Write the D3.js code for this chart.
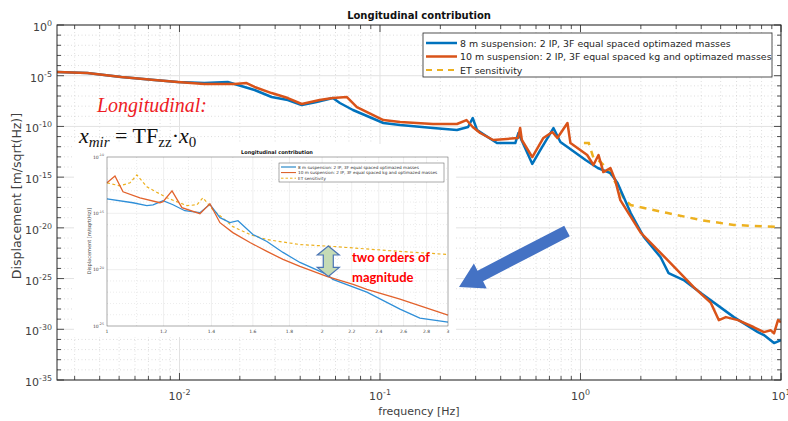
<!DOCTYPE html>
<html>
<head>
<meta charset="utf-8">
<script src="https://cdn.jsdelivr.net/npm/d3@7"></script>
<style>
  body { margin: 0; background: #fff; }
  svg { display: block; font-family: "DejaVu Sans", sans-serif; }
</style>
</head>
<body>
<svg id="chart" width="788" height="421"></svg>
<script>
// ---- data (frequency in Hz, displacement as log10 exponent) ----
const freq8 = [0.00237, 0.00347, 0.00513, 0.0075, 0.0098, 0.0133, 0.0174, 0.0188, 0.0237, 0.0288, 0.0347, 0.0407, 0.0483, 0.0582, 0.0631, 0.0733, 0.104, 0.126, 0.184, 0.242, 0.275, 0.29, 0.305, 0.383, 0.473, 0.49, 0.575, 0.63, 0.733, 0.794, 0.861, 1.06, 1.22, 1.41, 1.53, 1.78, 2.07, 2.51, 2.75, 3.27, 3.98, 5.82, 7.67, 8.22, 9.23, 10];
const exp8 = [-4.63, -4.73, -5.13, -5.42, -5.62, -5.72, -5.62, -5.82, -6.41, -7.1, -7.4, -7.89, -7.59, -7.2, -7.69, -8.38, -9.66, -9.86, -10.16, -10.36, -10.06, -9.17, -10.36, -11.64, -11.64, -10.65, -13.7, -12.33, -10.16, -11.54, -12.03, -13.31, -14.1, -14.6, -15.58, -18.54, -20.9, -22.9, -24.46, -25.15, -26.43, -28.8, -30.28, -30.57, -31.36, -31.07];

const freq10 = [0.00237, 0.00347, 0.00513, 0.0075, 0.0098, 0.0133, 0.0188, 0.0216, 0.0237, 0.0288, 0.0347, 0.0407, 0.05, 0.0582, 0.0684, 0.0767, 0.104, 0.126, 0.184, 0.242, 0.27, 0.29, 0.316, 0.367, 0.488, 0.5, 0.51, 0.575, 0.653, 0.724, 0.767, 0.861, 0.891, 1.08, 1.16, 1.23, 1.3, 1.41, 1.49, 1.58, 2.0, 2.72, 3.67, 4.47, 4.9, 5.31, 6.1, 7.33, 8.22, 8.9, 9.23, 9.66, 10];
const exp10 = [-4.63, -4.73, -5.13, -5.42, -5.62, -5.82, -5.82, -5.72, -6.11, -6.71, -7.2, -7.79, -7.4, -7.2, -7.1, -8.09, -9.37, -9.57, -9.76, -9.76, -9.37, -10.06, -10.65, -11.34, -11.14, -10.16, -11.34, -13.02, -11.14, -10.55, -11.14, -9.66, -11.64, -12.82, -13.8, -12.82, -14.5, -14.1, -15.3, -17.26, -20.5, -23.18, -25.84, -27.4, -29.1, -28.8, -29.1, -29.8, -30.28, -30.1, -30.4, -29.1, -29.3];

const freqET = [1.04, 1.1, 1.16, 1.26, 1.38, 1.5, 1.66, 1.78, 2.72, 3.98, 5.82, 10];
const expET = [-11.64, -11.64, -13.1, -13.5, -14.3, -15.6, -17.26, -17.75, -18.54, -19.23, -19.72, -19.92];

// zoomed inset, 1..3 Hz
const insetFreq8 = [1.0, 1.087, 1.137, 1.16, 1.198, 1.237, 1.285, 1.349, 1.393, 1.439, 1.486, 1.525, 1.6, 1.674, 1.763, 1.862, 2.03, 2.07, 2.31, 2.57, 2.74, 3.0];
const insetExp8 = [-13.71, -14.06, -14.32, -14.24, -13.88, -14.24, -14.77, -14.94, -14.2, -15.38, -15.83, -15.65, -16.88, -17.5, -18.47, -19.36, -20.41, -20.86, -22.0, -23.5, -24.3, -24.65];
const insetFreq10 = [1.0, 1.026, 1.053, 1.112, 1.186, 1.198, 1.233, 1.273, 1.349, 1.393, 1.439, 1.5, 1.585, 1.674, 1.763, 1.862, 2.03, 2.21, 2.31, 2.57, 3.0];
const insetExp10 = [-12.29, -11.68, -13.09, -13.62, -14.06, -13.97, -13.0, -14.5, -15.03, -14.15, -15.83, -16.71, -17.59, -18.38, -19.09, -19.71, -20.59, -21.3, -21.74, -22.62, -24.03];
const insetFreqET = [1.0, 1.043, 1.077, 1.101, 1.137, 1.213, 1.294, 1.336, 1.362, 1.407, 1.5, 1.585, 1.674, 1.862, 2.07, 2.57, 3.0];
const insetExpET = [-12.29, -12.56, -12.29, -11.59, -12.65, -13.62, -14.32, -14.24, -13.62, -14.68, -16.18, -16.88, -17.33, -17.77, -17.94, -18.38, -18.65];

// tick labels
const xTickExp = [-2, -1, 0, 1];
const yTickExp = [0, -5, -10, -15, -20, -25, -30, -35];
const insetXTicks = [1, 1.2, 1.4, 1.6, 1.8, 2, 2.2, 2.4, 2.6, 2.8, 3];
const insetYTickExp = [-10, -15, -20, -25];

const seriesNames = [
  "8 m suspension: 2 IP, 3F equal spaced optimazed masses",
  "10 m suspension: 2 IP, 3F equal spaced kg and optimazed masses",
  "ET sensitivity"
];
const colors = ["#0072BD", "#D95319", "#EDB120"];

const toPoints = (fs, es) => fs.map((f, i) => ({ f: f, v: Math.pow(10, es[i]) }));

const svg = d3.select("#chart");

// ---- main axes ----
const plot = { left: 57, right: 781, top: 25, bottom: 380 };
const x = d3.scaleLog().domain([0.00245, 10]).range([plot.left, plot.right]);
const y = d3.scaleLog().domain([1e-35, 1]).range([plot.bottom, plot.top]);

svg.append("defs").append("clipPath").attr("id", "clipMain")
  .append("rect")
  .attr("x", plot.left).attr("y", plot.top)
  .attr("width", plot.right - plot.left).attr("height", plot.bottom - plot.top);

// minor x ticks (2..9 in each decade)
const xMinor = [];
for (let e = -3; e <= 0; e++) for (let m = 2; m <= 9; m++) {
  const v = m * Math.pow(10, e);
  if (v > x.domain()[0] && v < x.domain()[1]) xMinor.push(v);
}
const yMinor = d3.range(-34, 0).filter(e => e % 5 !== 0).map(e => Math.pow(10, e));
const yMajor = yTickExp.map(e => Math.pow(10, e));
const xMajor = xTickExp.map(e => Math.pow(10, e));

const grid = svg.append("g");
grid.selectAll(".gxm").data(xMinor).enter().append("line")
  .attr("x1", d => x(d)).attr("x2", d => x(d))
  .attr("y1", plot.top).attr("y2", plot.bottom)
  .attr("stroke", "#cfcfcf").attr("stroke-width", 0.7).attr("stroke-dasharray", "1,2.5");
grid.selectAll(".gym").data(yMinor).enter().append("line")
  .attr("y1", d => y(d)).attr("y2", d => y(d))
  .attr("x1", plot.left).attr("x2", plot.right)
  .attr("stroke", "#cfcfcf").attr("stroke-width", 0.7).attr("stroke-dasharray", "1,2.5");
grid.selectAll(".gx").data(xMajor).enter().append("line")
  .attr("x1", d => x(d)).attr("x2", d => x(d))
  .attr("y1", plot.top).attr("y2", plot.bottom)
  .attr("stroke", "#e2e2e2").attr("stroke-width", 1);
grid.selectAll(".gy").data(yMajor).enter().append("line")
  .attr("y1", d => y(d)).attr("y2", d => y(d))
  .attr("x1", plot.left).attr("x2", plot.right)
  .attr("stroke", "#e2e2e2").attr("stroke-width", 1);

// ticks on all four sides
const ticks = svg.append("g").attr("stroke", "#262626").attr("stroke-width", 0.8);
[[plot.bottom, -1], [plot.top, 1]].forEach(([yy, dir]) => {
  ticks.selectAll(null).data(xMajor).enter().append("line")
    .attr("x1", d => x(d)).attr("x2", d => x(d)).attr("y1", yy).attr("y2", yy + dir * 7);
  ticks.selectAll(null).data(xMinor).enter().append("line")
    .attr("x1", d => x(d)).attr("x2", d => x(d)).attr("y1", yy).attr("y2", yy + dir * 4);
});
[[plot.left, 1], [plot.right, -1]].forEach(([xx, dir]) => {
  ticks.selectAll(null).data(yMajor).enter().append("line")
    .attr("y1", d => y(d)).attr("y2", d => y(d)).attr("x1", xx).attr("x2", xx + dir * 7);
  ticks.selectAll(null).data(yMinor).enter().append("line")
    .attr("y1", d => y(d)).attr("y2", d => y(d)).attr("x1", xx).attr("x2", xx + dir * 4);
});

// tick labels with superscript exponents
function powerLabel(sel, exp, size) {
  sel.append("tspan").text("10");
  sel.append("tspan").attr("dy", -size * 0.45).attr("font-size", size * 0.72).text(exp);
}
svg.append("g").selectAll("text").data(yTickExp).enter().append("text")
  .attr("x", 52).attr("y", d => y(Math.pow(10, d)) + 6)
  .attr("text-anchor", "end").attr("font-size", 11).attr("fill", "#404040")
  .each(function(d) { powerLabel(d3.select(this), d, 11); });
svg.append("g").selectAll("text").data(xTickExp).enter().append("text")
  .attr("x", d => x(Math.pow(10, d))).attr("y", 400)
  .attr("text-anchor", "middle").attr("font-size", 11).attr("fill", "#404040")
  .each(function(d) { powerLabel(d3.select(this), d, 11); });

// curves
const line = d3.line().x(d => x(d.f)).y(d => y(d.v));
const curves = svg.append("g").attr("clip-path", "url(#clipMain)");
curves.append("path").datum(toPoints(freqET, expET))
  .attr("d", line).attr("fill", "none").attr("stroke", colors[2])
  .attr("stroke-width", 2.5).attr("stroke-dasharray", "7,6");
curves.append("path").datum(toPoints(freq8, exp8))
  .attr("d", line).attr("fill", "none").attr("stroke", colors[0])
  .attr("stroke-width", 2.5).attr("stroke-linejoin", "round");
curves.append("path").datum(toPoints(freq10, exp10))
  .attr("d", line).attr("fill", "none").attr("stroke", colors[1])
  .attr("stroke-width", 2.5).attr("stroke-linejoin", "round");

// frame
svg.append("rect")
  .attr("x", plot.left).attr("y", plot.top)
  .attr("width", plot.right - plot.left).attr("height", plot.bottom - plot.top)
  .attr("fill", "none").attr("stroke", "#262626").attr("stroke-width", 1);

// title and axis labels
svg.append("text").attr("x", 419).attr("y", 19).attr("text-anchor", "middle")
  .attr("font-size", 10).attr("font-weight", "bold").attr("fill", "#111")
  .text("Longitudinal contribution");
svg.append("text").attr("x", 419).attr("y", 415).attr("text-anchor", "middle")
  .attr("font-size", 11).attr("fill", "#404040").text("frequency [Hz]");
svg.append("text").attr("transform", "translate(21,196) rotate(-90)")
  .attr("text-anchor", "middle").attr("font-size", 12.5).attr("fill", "#404040")
  .text("Displacement [m/sqrt(Hz)]");

// legend
const legend = svg.append("g").attr("transform", "translate(423,33)");
legend.append("rect").attr("width", 349).attr("height", 44)
  .attr("fill", "#fff").attr("stroke", "#262626").attr("stroke-width", 0.8);
const legendRows = legend.selectAll("g").data(seriesNames).enter().append("g")
  .attr("transform", (d, i) => `translate(0,${10 + i * 13.5})`);
legendRows.append("line").attr("x1", 3).attr("x2", 34)
  .attr("stroke", (d, i) => colors[i]).attr("stroke-width", (d, i) => i === 2 ? 2 : 2.5)
  .attr("stroke-dasharray", (d, i) => i === 2 ? "6,5" : null);
legendRows.append("text").attr("x", 37).attr("y", 3.5)
  .attr("font-size", 9.4).attr("fill", "#262626").text(d => d);

// ---- inset (zoom on 1..3 Hz) ----
svg.append("rect").attr("x", 74).attr("y", 144).attr("width", 382).attr("height", 193).attr("fill", "#fff");
const ib = { left: 107, right: 448, top: 157, bottom: 326 };
const xi = d3.scaleLog().domain([1, 3]).range([ib.left, ib.right]);
const yi = d3.scaleLog().domain([1e-25, 1e-10]).range([ib.bottom, ib.top]);
const inset = svg.append("g");

inset.selectAll(".igx").data(insetXTicks.slice(1, -1)).enter().append("line")
  .attr("x1", d => xi(d)).attr("x2", d => xi(d)).attr("y1", ib.top).attr("y2", ib.bottom)
  .attr("stroke", "#e4e4e4").attr("stroke-width", 0.6);
inset.selectAll(".igxm").data(d3.range(1.1, 3, 0.2)).enter().append("line")
  .attr("x1", d => xi(d)).attr("x2", d => xi(d)).attr("y1", ib.top).attr("y2", ib.bottom)
  .attr("stroke", "#d8d8d8").attr("stroke-width", 0.5).attr("stroke-dasharray", "1,2");
inset.selectAll(".igym").data(d3.range(-24, -10).filter(e => e % 5 !== 0)).enter().append("line")
  .attr("y1", d => yi(Math.pow(10, d))).attr("y2", d => yi(Math.pow(10, d)))
  .attr("x1", ib.left).attr("x2", ib.right)
  .attr("stroke", "#d8d8d8").attr("stroke-width", 0.5).attr("stroke-dasharray", "1,2");
inset.selectAll(".igy").data([-15, -20]).enter().append("line")
  .attr("y1", d => yi(Math.pow(10, d))).attr("y2", d => yi(Math.pow(10, d)))
  .attr("x1", ib.left).attr("x2", ib.right)
  .attr("stroke", "#e4e4e4").attr("stroke-width", 0.6);

const iline = d3.line().x(d => xi(d.f)).y(d => yi(d.v));
inset.append("path").datum(toPoints(insetFreqET, insetExpET))
  .attr("d", iline).attr("fill", "none").attr("stroke", colors[2])
  .attr("stroke-width", 1.2).attr("stroke-dasharray", "3,2.5");
inset.append("path").datum(toPoints(insetFreq8, insetExp8))
  .attr("d", iline).attr("fill", "none").attr("stroke", "#2f8fd8").attr("stroke-width", 1.3);
inset.append("path").datum(toPoints(insetFreq10, insetExp10))
  .attr("d", iline).attr("fill", "none").attr("stroke", "#e2622c").attr("stroke-width", 1.3);

inset.append("rect").attr("x", ib.left).attr("y", ib.top)
  .attr("width", ib.right - ib.left).attr("height", ib.bottom - ib.top)
  .attr("fill", "none").attr("stroke", "#555").attr("stroke-width", 0.5);

inset.selectAll(".ixl").data(insetXTicks).enter().append("text")
  .attr("x", d => xi(d)).attr("y", ib.bottom + 6.5).attr("text-anchor", "middle")
  .attr("font-size", 4.5).attr("fill", "#444").text(d => d);
inset.selectAll(".iyl").data(insetYTickExp).enter().append("text")
  .attr("x", ib.left - 3).attr("y", d => yi(Math.pow(10, d)) + 1.5)
  .attr("text-anchor", "end").attr("font-size", 4.5).attr("fill", "#444")
  .each(function(d) { powerLabel(d3.select(this), d, 4.5); });
inset.append("text").attr("x", 277).attr("y", 154).attr("text-anchor", "middle")
  .attr("font-size", 5).attr("font-weight", "bold").attr("fill", "#111")
  .text("Longitudinal contribution");
inset.append("text").attr("transform", "translate(91,241) rotate(-90)")
  .attr("text-anchor", "middle").attr("font-size", 5).attr("fill", "#444")
  .text("Displacement [m/sqrt(Hz)]");

const ilegend = inset.append("g").attr("transform", "translate(279,163)");
ilegend.append("rect").attr("width", 165).attr("height", 19)
  .attr("fill", "#fff").attr("stroke", "#555").attr("stroke-width", 0.5);
const ilegRows = ilegend.selectAll("g").data(seriesNames).enter().append("g")
  .attr("transform", (d, i) => `translate(0,${4 + i * 5.6})`);
ilegRows.append("line").attr("x1", 2).attr("x2", 17)
  .attr("stroke", (d, i) => colors[i]).attr("stroke-width", 1)
  .attr("stroke-dasharray", (d, i) => i === 2 ? "2.5,2" : null);
ilegRows.append("text").attr("x", 19).attr("y", 1.5)
  .attr("font-size", 4.2).attr("fill", "#333").text(d => d);

// ---- annotations ----
svg.append("text").attr("x", 97).attr("y", 112)
  .attr("font-family", "Liberation Serif, serif").attr("font-style", "italic")
  .attr("font-size", 20).attr("fill", "#ee1c25").text("Longitudinal:");
const formula = svg.append("text").attr("x", 79).attr("y", 143)
  .attr("font-family", "Liberation Serif, serif").attr("font-size", 22).attr("fill", "#111");
formula.append("tspan").attr("font-style", "italic").text("x");
formula.append("tspan").attr("font-style", "italic").attr("font-size", 15).attr("dy", 4).text("mir");
formula.append("tspan").attr("dy", -4).text(" = TF");
formula.append("tspan").attr("font-size", 15).attr("dy", 4).text("zz");
formula.append("tspan").attr("dy", -4).text("·");
formula.append("tspan").attr("font-style", "italic").text("x");
formula.append("tspan").attr("font-size", 15).attr("dy", 4).text("0");

const note = svg.append("text").attr("font-family", "Lato, sans-serif")
  .attr("font-weight", "bold").attr("font-size", 13).attr("fill", "#ff0000");
note.append("tspan").attr("x", 352).attr("y", 262).text("two orders of");
note.append("tspan").attr("x", 352).attr("y", 282).text("magnitude");

// double arrow between ET and the curves at ~2 Hz
const ax = xi(2.04), ay1 = yi(Math.pow(10, -17.9)), ay2 = yi(Math.pow(10, -20.6));
const hw = 11, sw = 5, hl = 9;
svg.append("path")
  .attr("d", `M${ax},${ay1} L${ax + hw},${ay1 + hl} L${ax + sw},${ay1 + hl} L${ax + sw},${ay2 - hl}
    L${ax + hw},${ay2 - hl} L${ax},${ay2} L${ax - hw},${ay2 - hl} L${ax - sw},${ay2 - hl}
    L${ax - sw},${ay1 + hl} L${ax - hw},${ay1 + hl} Z`)
  .attr("fill", "#c5dbb5").attr("stroke", "#4a74b4").attr("stroke-width", 1.2);

// big blue arrow pointing into the inset
const tail = [567, 231], tip = [459, 287];
const dx = tip[0] - tail[0], dy = tip[1] - tail[1], len = Math.hypot(dx, dy);
const ux = dx / len, uy = dy / len, nx = -uy, ny = ux;
const headLen = 24, headHalf = 14, shaftHalf = 6;
const base = [tip[0] - ux * headLen, tip[1] - uy * headLen];
const pts = [
  [tail[0] + nx * shaftHalf, tail[1] + ny * shaftHalf],
  [base[0] + nx * shaftHalf, base[1] + ny * shaftHalf],
  [base[0] + nx * headHalf, base[1] + ny * headHalf],
  tip,
  [base[0] - nx * headHalf, base[1] - ny * headHalf],
  [base[0] - nx * shaftHalf, base[1] - ny * shaftHalf],
  [tail[0] - nx * shaftHalf, tail[1] - ny * shaftHalf]
];
svg.append("polygon").attr("points", pts.map(p => p.join(",")).join(" "))
  .attr("fill", "#4472c4");
</script>
</body>
</html>
